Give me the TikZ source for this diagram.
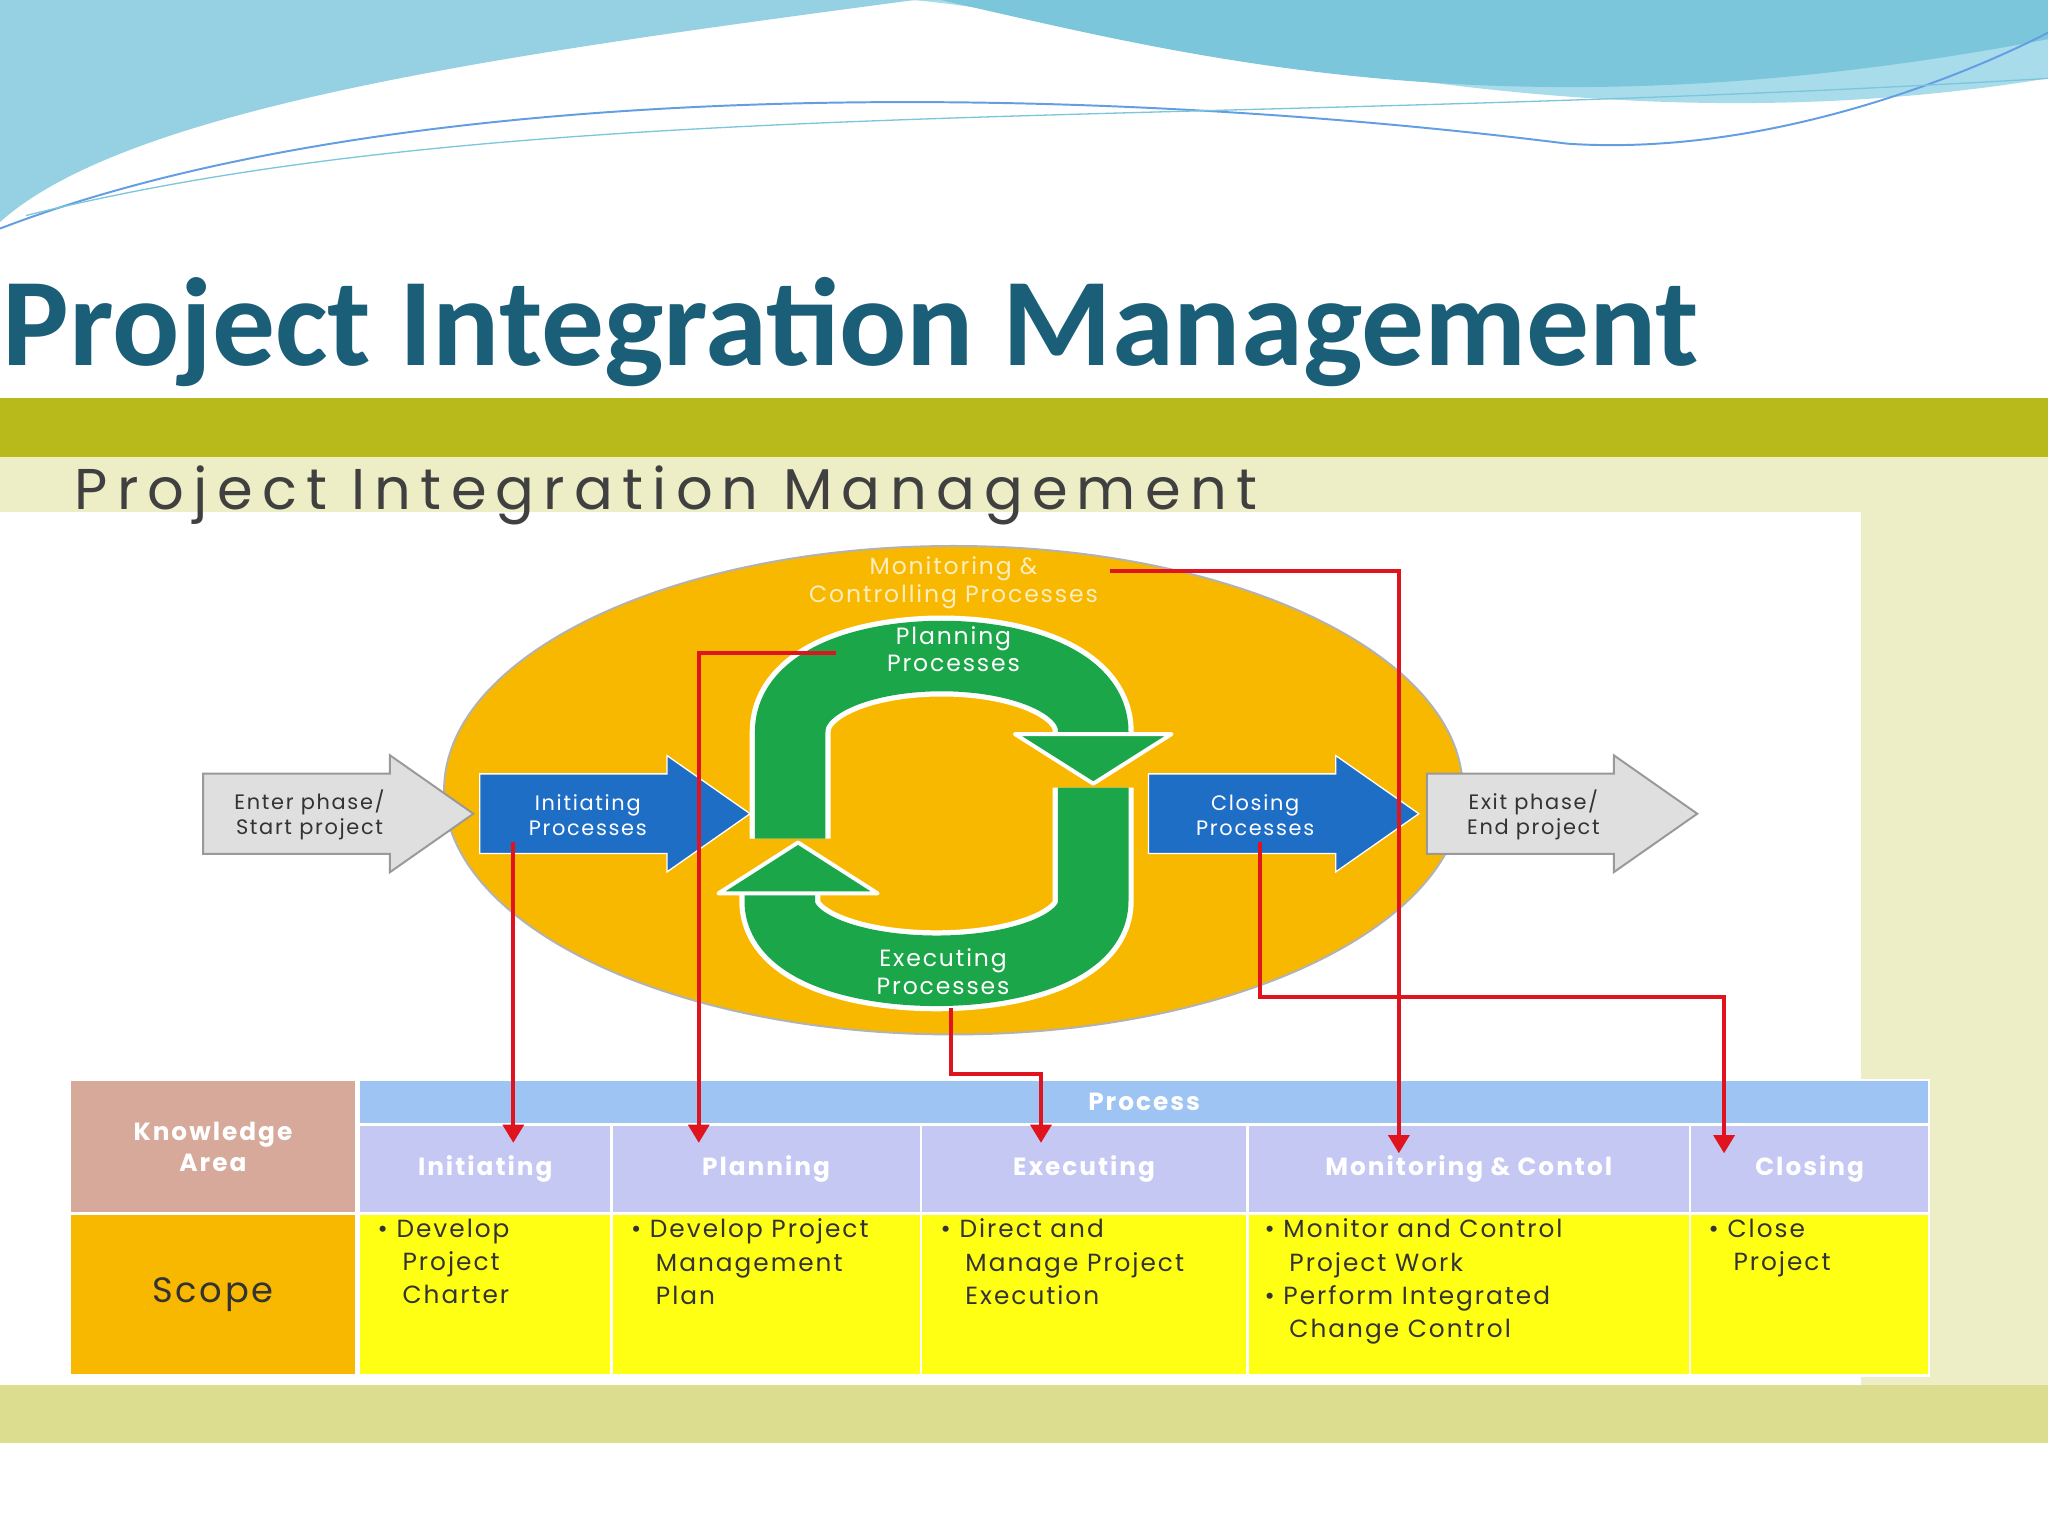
\documentclass[tikz,border=0pt]{standalone}
\usepackage{fontspec}
\setmainfont{Poppins}
\newfontfamily\titlefont{Carlito}
\newfontfamily\wide[LetterSpace=8]{Poppins}
\newfontfamily\widesub[LetterSpace=16]{Poppins}
\usetikzlibrary{arrows.meta,shapes.arrows,shapes.geometric}
\definecolor{teal}{HTML}{1B5E78}
\definecolor{olive}{HTML}{B8BA1C}
\definecolor{orng}{HTML}{F8B800}
\definecolor{grn}{HTML}{1CA64A}
\definecolor{blu}{HTML}{1E6EC6}
\definecolor{redl}{HTML}{E0141E}
\definecolor{hdr}{HTML}{9DC4F2}
\definecolor{sub}{HTML}{C6C8F4}
\definecolor{rose}{HTML}{D6A99A}
\definecolor{yel}{HTML}{FFFF14}
\definecolor{wave1}{HTML}{7CC6DC}
\definecolor{wave2}{HTML}{A8DCEA}
\tikzset{
 redc/.style={draw=redl,line width=3pt},
 redarr/.style={redc,-{Triangle[length=14pt,width=16pt]}},
 subh/.style={draw=white,line width=2pt,fill=sub,text=white,font=\wide\bfseries\fontsize{19}{20}\selectfont,inner sep=0},
 cell/.style={draw=white,line width=2pt,fill=yel,anchor=north west,inner sep=0},
 bwhite/.style={text=white,font=\wide\fontsize{18}{21}\selectfont,align=center},
 blabel/.style={font=\wide\fontsize{16}{19}\selectfont,align=center},
}
\begin{document}
\begin{tikzpicture}[x=1pt,y=-1pt]
\useasboundingbox (0,0) rectangle (1568,1176);
\fill[white] (0,0) rectangle (1568,1176);
% top waves
\fill[wave2] (0,0) -- (1568,0) -- (1568,60) .. controls (1200,120) and (900,20) .. (700,0) -- cycle;
\fill[wave1] (0,0) -- (720,0) .. controls (900,40) and (1150,110) .. (1568,30) -- (1568,0) -- cycle;
\fill[wave1!80!white] (0,0) -- (700,0) .. controls (400,40) and (100,80) .. (0,170) -- cycle;
\draw[wave1!80!blue,line width=1.5pt] (0,175) .. controls (300,60) and (800,60) .. (1200,110) .. controls (1350,120) and (1500,60) .. (1568,25);
\draw[wave1,line width=1pt] (20,165) .. controls (400,70) and (900,100) .. (1568,60);
% title
\node[anchor=base west,text=teal,font=\titlefont\bfseries\fontsize{96}{100}\selectfont,inner sep=0] (title) at (2,280) {Project Integration Management};
% image background
\fill[olive] (0,305) rectangle (1568,350);
\fill[olive!25!white] (0,350) rectangle (1568,1105);
\fill[olive!50!white] (0,1060) rectangle (1568,1105);
\fill[white] (0,392) rectangle (1425,1060);
\node[anchor=base west,text=black!75,font=\widesub\fontsize{44}{46}\selectfont,inner sep=0] (sub) at (57,390) {Project Integration Management};
% ellipse
\node[ellipse,draw=gray!60,line width=1.5pt,fill=orng,minimum width=780pt,minimum height=374pt] (ell) at (730,605) {};
% green loop
\begin{scope}[line join=round]
\draw[white,line width=62pt] (605,642) -- (605,560) .. controls (605,483) and (837,483) .. (837,560) -- (837,565);
\draw[grn,line width=54pt] (605,642) -- (605,560) .. controls (605,483) and (837,483) .. (837,560) -- (837,565);
\filldraw[fill=grn,draw=white,line width=3pt] (777,562) -- (897,562) -- (837,600) -- cycle;
\draw[white,line width=62pt] (837,603) -- (837,690) .. controls (837,761) and (597,761) .. (597,690) -- (597,682);
\draw[grn,line width=54pt] (837,603) -- (837,690) .. controls (837,761) and (597,761) .. (597,690) -- (597,682);
\filldraw[fill=grn,draw=white,line width=3pt] (550,684) -- (672,684) -- (611,645) -- cycle;
\end{scope}
\node[bwhite,text=white!75!orng] (mc) at (730,446) {Monitoring \&\\Controlling Processes};
\node[bwhite] (plan) at (730,497) {Planning\\Processes};
\node[bwhite] (exec) at (722,744) {Executing\\Processes};
% block arrows
\tikzset{barrow/.style={single arrow,single arrow head extend=14pt,single arrow tip angle=70,minimum height=207pt,inner sep=0}}
\node[barrow,fill=gray!25,draw=gray!80,line width=1.5pt] (enter) at (237,623) {\rule{0pt}{60pt}};
\node[barrow,fill=blu,draw=white,line width=1pt] (init) at (449,623) {\rule{0pt}{60pt}};
\node[barrow,fill=blu,draw=white,line width=1pt] (clos) at (961,623) {\rule{0pt}{60pt}};
\node[barrow,fill=gray!25,draw=gray!80,line width=1.5pt] (exit) at (1174,623) {\rule{0pt}{60pt}};
\node[blabel,text=black!80] (enterT) at (237,624) {Enter phase/\\Start project};
\node[blabel,text=white] (initT) at (450,624) {Initiating\\Processes};
\node[blabel,text=white] (closT) at (961,624) {Closing\\Processes};
\node[blabel,text=black!80] (exitT) at (1174,624) {Exit phase/\\End project};
% table
\node[draw=white,line width=2pt,fill=rose,anchor=north west,minimum width=220pt,minimum height=102pt,text=white,font=\wide\bfseries\fontsize{19}{24}\selectfont,align=center] (ka) at (52,826) {Knowledge\\Area};
\node[draw=white,line width=2pt,fill=hdr,anchor=north west,minimum width=1202pt,minimum height=34pt,text=white,font=\wide\bfseries\fontsize{19}{20}\selectfont] (proc) at (274,826) {Process};
\node[subh,anchor=north west,minimum width=193pt,minimum height=68pt] (hI) at (274,860) {Initiating};
\node[subh,anchor=north west,minimum width=237pt,minimum height=68pt] (hP) at (467,860) {Planning};
\node[subh,anchor=north west,minimum width=250pt,minimum height=68pt] (hE) at (704,860) {Executing};
\node[subh,anchor=north west,minimum width=339pt,minimum height=68pt] (hM) at (954,860) {Monitoring \& Contol};
\node[subh,anchor=north west,minimum width=183pt,minimum height=68pt] (hC) at (1293,860) {Closing};
\node[draw=white,line width=2pt,fill=orng,anchor=north west,minimum width=220pt,minimum height=124pt,text=black!80,font=\wide\fontsize{27}{28}\selectfont] (scope) at (52,928) {Scope};
\foreach \n/\x/\w in {cI/274/193,cP/467/237,cE/704/250,cM/954/339,cC/1293/183}
  \node[cell,minimum width=\w pt,minimum height=124pt] (\n) at (\x,928) {};
\tikzset{ct/.style={anchor=north west,font=\wide\fontsize{19}{25.5}\selectfont,text=black!80,align=left,inner sep=0}}
\node[ct] (tI) at (289,933) {• Develop\\\hspace*{1em}Project\\\hspace*{1em}Charter};
\node[ct] (tP) at (483,933) {• Develop Project\\\hspace*{1em}Management\\\hspace*{1em}Plan};
\node[ct] (tE) at (720,933) {• Direct and\\\hspace*{1em}Manage Project\\\hspace*{1em}Execution};
\node[ct] (tM) at (968,933) {• Monitor and Control\\\hspace*{1em}Project Work\\• Perform Integrated\\\hspace*{1em}Change Control};
\node[ct] (tC) at (1308,933) {• Close\\\hspace*{1em}Project};
% red connectors
\coordinate (r1a) at (393,645); \coordinate (r1b) at (393,875);
\draw[redarr] (r1a) -- (r1b);
\coordinate (r2a) at (640,500); \coordinate (r2b) at (535,500); \coordinate (r2c) at (535,875);
\draw[redarr] (r2a) -- (r2b) -- (r2c);
\coordinate (r3a) at (728,772); \coordinate (r3b) at (728,822); \coordinate (r3c) at (797,822); \coordinate (r3d) at (797,875);
\draw[redarr] (r3a) -- (r3b) -- (r3c) -- (r3d);
\coordinate (r4a) at (850,437); \coordinate (r4b) at (1071,437); \coordinate (r4c) at (1071,883);
\draw[redarr] (r4a) -- (r4b) -- (r4c);
\coordinate (r5a) at (965,645); \coordinate (r5b) at (965,763); \coordinate (r5c) at (1320,763); \coordinate (r5d) at (1320,883);
\draw[redarr] (r5a) -- (r5b) -- (r5c) -- (r5d);
\end{tikzpicture}
\end{document}
